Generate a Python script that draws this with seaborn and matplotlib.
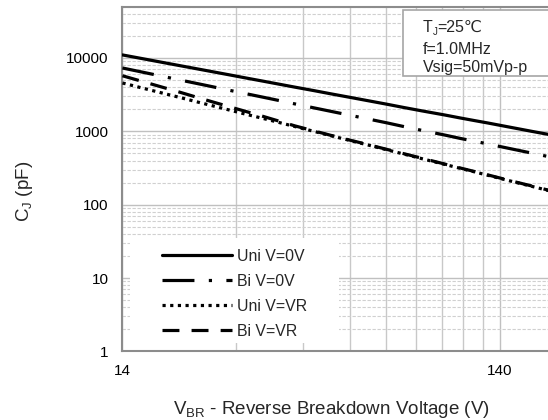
import pandas as pd
import matplotlib
matplotlib.use('Agg')
import matplotlib.pyplot as plt
import matplotlib.ticker as mticker
from matplotlib.patches import Rectangle
import seaborn as sns

# breakdown voltage (V) and junction capacitance (pF)
v_br = [14, 16, 18, 20, 22, 24, 27, 30, 33, 36, 40, 45, 50, 56, 62, 70, 78, 87, 100, 110, 120, 130, 150, 170, 190]
uni_0v = [11000, 9680, 8640, 7810, 7130, 6560, 5860, 5290, 4830, 4440, 4010, 3590, 3240, 2910, 2640, 2350, 2110, 1900, 1670, 1520, 1400, 1300, 1130, 1000, 900]
bi_0v = [7300, 6330, 5580, 4980, 4500, 4100, 3610, 3230, 2920, 2660, 2370, 2090, 1870, 1660, 1490, 1310, 1160, 1030, 890, 800, 733, 673, 577, 505, 448]
uni_vr = [4560, 3830, 3290, 2870, 2530, 2260, 1940, 1690, 1500, 1340, 1165, 1000, 870, 752, 660, 563, 489, 424, 354, 313, 280, 252, 209, 178, 154]
bi_vr = [5720, 4700, 3950, 3380, 2920, 2560, 2150, 1840, 1600, 1400, 1190, 1015, 880, 760, 668, 570, 495, 430, 358, 316, 283, 255, 211, 180, 156]

series_names = ['Uni V=0V', 'Bi V=0V', 'Uni V=VR', 'Bi V=VR']
x_major = [14, 140]
x_minor = [28, 42, 56, 70, 84, 98, 112, 126]
note_lines = ['f=1.0MHz', 'Vsig=50mVp-p']

df = pd.DataFrame({
    'V': v_br * 4,
    'C': uni_0v + bi_0v + uni_vr + bi_vr,
    'series': [n for n in series_names for _ in v_br],
})

sns.set_style('white')
plt.rcParams['font.family'] = ['Liberation Sans', 'DejaVu Sans']
plt.rcParams['mathtext.fontset'] = 'custom'
plt.rcParams['mathtext.rm'] = 'Liberation Sans'
plt.rcParams['mathtext.it'] = 'Liberation Sans:italic'
plt.rcParams['font.size'] = 11

fig = plt.figure(figsize=(5.48, 4.2), dpi=100)
ax = fig.add_axes([0.2235, 0.1631, 0.7803, 0.821])

dash_styles = {
    'Uni V=0V': '',
    'Bi V=0V': (10, 4.5, 1, 4.5),
    'Uni V=VR': (1, 1.4),
    'Bi V=VR': (5.3, 3.8),
}
sns.lineplot(data=df, x='V', y='C', hue='series', style='series',
             hue_order=series_names, style_order=series_names,
             palette=['black'] * 4, dashes=dash_styles,
             linewidth=2.3, errorbar=None, ax=ax, zorder=4)

ax.set_xscale('log')
ax.set_yscale('log')
ax.set_xlim(14, 190)
ax.set_ylim(1, 50000)

ax.xaxis.set_major_locator(mticker.FixedLocator(x_major))
ax.xaxis.set_minor_locator(mticker.FixedLocator(x_minor))
ax.xaxis.set_major_formatter(mticker.FuncFormatter(lambda v, _: f'{v:g}'))
ax.xaxis.set_minor_formatter(mticker.NullFormatter())
ax.yaxis.set_major_locator(mticker.LogLocator(base=10))
ax.yaxis.set_minor_locator(mticker.LogLocator(base=10, subs=range(2, 10)))
ax.yaxis.set_major_formatter(mticker.FuncFormatter(lambda v, _: f'{v:g}'))
ax.yaxis.set_minor_formatter(mticker.NullFormatter())

ax.grid(which='major', axis='both', color='#C0C0C0', lw=1.0, ls='-', zorder=0)
ax.grid(which='minor', axis='x', color='#C8C8C8', lw=1.0, ls='-', zorder=0)
ax.grid(which='minor', axis='y', color='#D0D0D0', lw=0.8, ls=(0, (3, 1.5)), zorder=0)
ax.set_axisbelow(True)

ax.tick_params(which='both', length=0)
ax.tick_params(axis='y', pad=10, labelsize=11, colors='black')
ax.tick_params(axis='x', pad=9, labelsize=11, colors='black')
for side in ['left', 'bottom', 'top']:
    ax.spines[side].set_color('#8C8C8C')
    ax.spines[side].set_linewidth(1.5)
ax.spines['right'].set_visible(False)

ax.set_xlabel('V$_\\mathregular{BR}$ - Reverse Breakdown Voltage (V)', fontsize=13.5)
ax.set_ylabel('C$_\\mathregular{J}$ (pF)', fontsize=13.5)
ax.xaxis.set_label_coords(0.4876, -0.138)
ax.yaxis.set_label_coords(-0.205, 0.4655)

# legend on a white patch, no border
ax.add_patch(Rectangle((0.0175, 0.0246), 0.489, 0.304, transform=ax.transAxes,
                       facecolor='white', edgecolor='none', zorder=3))
old = ax.get_legend()
handles = old.legend_handles
labels = [t.get_text() for t in old.get_texts()]
old.remove()
ax.legend(handles, labels, loc='upper left', bbox_to_anchor=(0.0924, 0.2985),
          frameon=False, borderpad=0, borderaxespad=0, handlelength=4.45,
          handletextpad=0.3, labelspacing=0.64, fontsize=11.4)

# conditions box, cut at the right edge
ax.add_patch(Rectangle((0.655, 0.799), 0.5, 0.191, transform=ax.transAxes,
                       facecolor='white', edgecolor='#A6A6A6', lw=1.2,
                       zorder=5, clip_on=False))
t1 = ax.text(0.703, 0.9258, 'T', transform=ax.transAxes, fontsize=11.5,
             va='baseline', ha='left', zorder=6)
t2 = ax.annotate('J', xy=(1, 0), xycoords=t1, xytext=(0, -1.5), textcoords='offset points',
                 fontsize=7, va='bottom', ha='left', zorder=6)
ax.annotate('=25\u2103', xy=(1, 0), xycoords=(t2, t1), fontsize=11.5,
            va='bottom', ha='left', zorder=6)
for txt, yy in zip(note_lines, [0.862, 0.8097]):
    ax.text(0.703, yy, txt, transform=ax.transAxes, fontsize=11.5,
            va='baseline', ha='left', zorder=6)

fig.savefig('out.png', dpi=100)
